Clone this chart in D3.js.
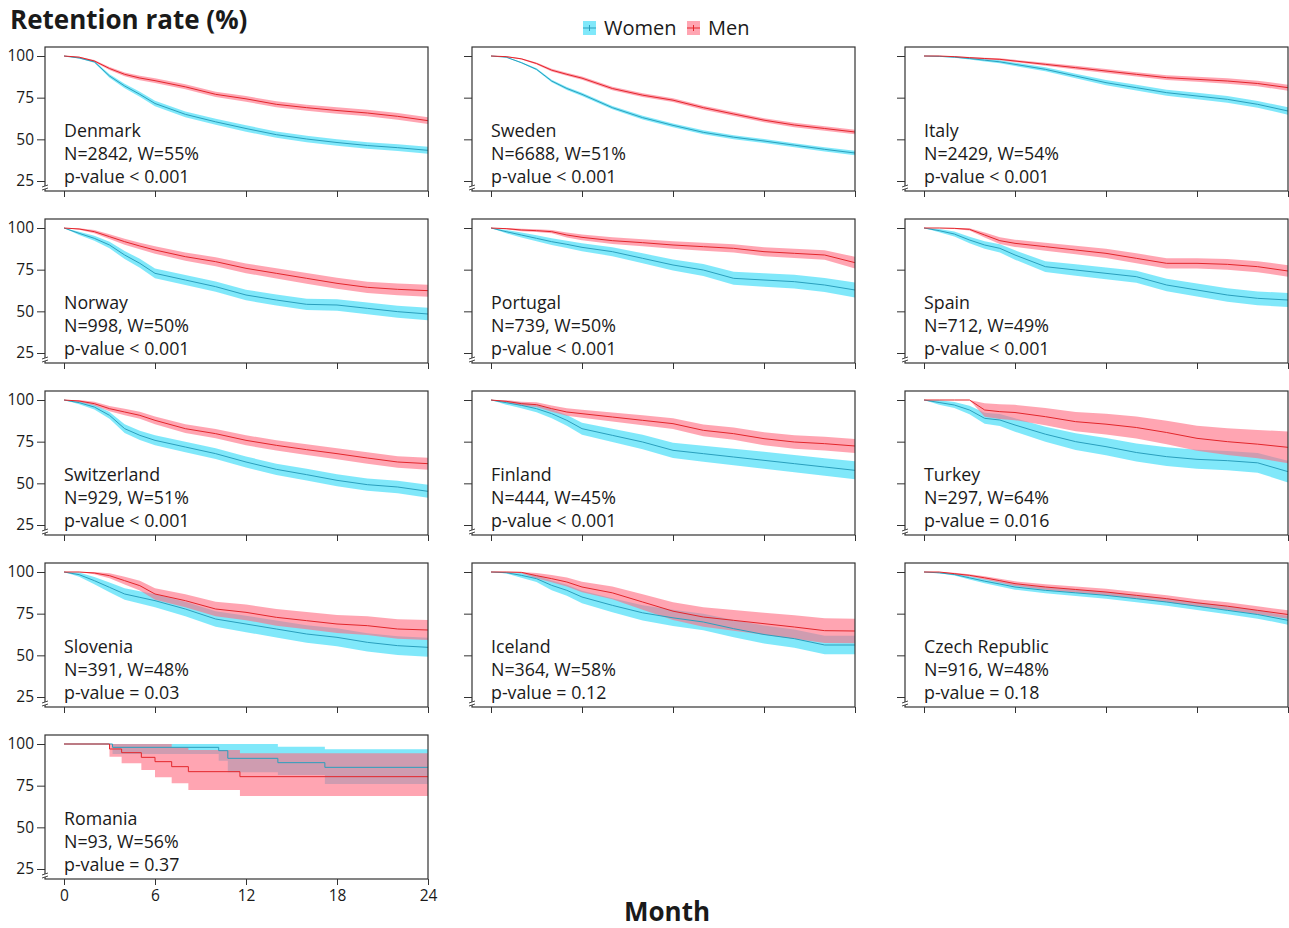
<!DOCTYPE html>
<html>
<head>
<meta charset="utf-8">
<script src="https://cdn.jsdelivr.net/npm/d3@7"></script>
<style>
body { margin: 0; background: #fff; }
text { font-family: "Open Sans", sans-serif; fill: #1a1a1a; }
</style>
</head>
<body>
<div id="chart"></div>
<script>
// retention curves
var months = [0, 1, 2, 3, 4, 5, 6, 8, 10, 12, 14, 16, 18, 20, 22, 24];

var countries = ["Denmark", "Sweden", "Italy", "Norway", "Portugal", "Spain",
  "Switzerland", "Finland", "Turkey", "Slovenia", "Iceland", "Czech Republic", "Romania"];
var sampleN = [2842, 6688, 2429, 998, 739, 712, 929, 444, 297, 391, 364, 916, 93];
var womenShare = [55, 51, 54, 50, 50, 49, 51, 45, 64, 48, 58, 48, 56];
var pValues = ["< 0.001", "< 0.001", "< 0.001", "< 0.001", "< 0.001", "< 0.001",
  "< 0.001", "< 0.001", "= 0.016", "= 0.03", "= 0.12", "= 0.18", "= 0.37"];

var womenSurv = [
  [100, 98.8, 96.5, 88, 82, 77, 71.5, 65, 60.5, 56.5, 52.8, 50.2, 48.1, 46.3, 45, 43.4],
  [100, 99.3, 96, 92, 85, 80.5, 77, 69, 63, 58.4, 54.2, 51.3, 49, 46.5, 44, 41.8],
  [100, 99.8, 99.3, 98.5, 97.5, 96.5, 95, 92, 88, 84, 81, 78, 76, 74, 71, 67],
  [100, 96.8, 93.8, 89.8, 83.8, 78.8, 72.8, 68.8, 64.8, 59.8, 56.8, 54.2, 53.8, 51.8, 49.8, 48.4],
  [100, 97.8, 95.8, 93.8, 91.8, 90.2, 88.4, 85.8, 81.8, 77.8, 74.8, 69.8, 68.8, 67.8, 65.8, 62.8],
  [100, 98.4, 96.4, 92.8, 89.8, 87.8, 83.8, 76.8, 74.8, 72.8, 70.8, 65.8, 62.8, 59.8, 57.8, 56.8],
  [100, 98.4, 95.8, 90.8, 82.8, 78.8, 75.8, 71.8, 67.8, 62.8, 58.4, 55.2, 51.8, 49.2, 47.8, 45.2],
  [100, 98.4, 96.8, 94.8, 91.8, 87.8, 82.8, 78.8, 74.8, 69.8, 67.8, 65.8, 63.8, 61.8, 59.8, 57.8],
  [100, 98.5, 97, 94, 89, 88, 85, 79.5, 75, 72, 68.5, 66, 64.4, 63.6, 62.3, 57],
  [100, 98.4, 94.8, 90.8, 86.8, 84.8, 82.8, 77.8, 71.8, 68.8, 65.8, 62.8, 60.8, 57.8, 55.8, 54.8],
  [100, 99.6, 98, 96, 92, 89, 85, 80, 75.5, 72.5, 70, 66, 62.5, 60, 56.2, 56.2],
  [100, 99.5, 98.5, 96.5, 94.5, 92.8, 91, 89, 87.5, 86, 84, 82, 79.5, 77, 74.5, 71]
];
var menSurv = [
  [100, 99.3, 97, 92.5, 89, 86.8, 85.2, 81.5, 77, 74.3, 71, 69, 67.3, 65.8, 63.8, 61.2],
  [100, 99.6, 98.3, 95.5, 91.5, 89, 86.7, 80.5, 76.5, 73.5, 69, 65.2, 61.5, 58.6, 56.5, 54.4],
  [100, 100, 99.6, 99, 98.5, 98, 97, 95, 93, 91, 89, 87, 86, 85, 83.5, 81],
  [100, 99.4, 97.8, 94.8, 91.8, 89.2, 86.8, 82.8, 79.8, 75.8, 72.8, 69.8, 66.8, 64.4, 63.2, 62.4],
  [100, 99.6, 98.8, 98.4, 97.8, 95.8, 94.4, 92.4, 91.2, 89.8, 88.8, 87.8, 85.8, 84.8, 83.8, 79.2],
  [100, 100, 99.8, 99.2, 95.8, 92.4, 90.8, 88.8, 86.8, 84.8, 81.8, 78.8, 78.8, 78.2, 76.8, 74.2],
  [100, 99.4, 97.8, 94.8, 92.8, 90.8, 87.8, 82.8, 79.8, 75.8, 72.8, 70.2, 67.8, 65.2, 62.8, 61.8],
  [100, 99.2, 97.8, 97.2, 94.8, 92.8, 91.8, 89.8, 87.8, 85.8, 81.8, 79.8, 76.8, 74.8, 73.8, 72.4],
  [100, 100, 100, 100, 94, 93, 92.5, 90, 87, 85.5, 83.5, 80.5, 77, 75, 73.5, 71.6],
  [100, 100, 99.4, 97.8, 94.8, 91.8, 86.8, 82.8, 77.8, 75.8, 72.8, 70.8, 68.8, 67.8, 65.8, 65.2],
  [100, 100, 99.8, 97.8, 96, 94, 91, 87.5, 82, 76.5, 73, 71, 69, 67, 64.8, 64.6],
  [100, 100, 99, 98, 96.5, 94.8, 93, 91, 89.5, 88, 86, 84, 81.5, 79.5, 77, 74.5]
];
// half-width of the 95% band
var womenCI = [
  [0, 0.3, 0.6, 1, 1.3, 1.5, 1.6, 1.7, 1.8, 1.9, 1.9, 2, 2, 2, 2, 2.1],
  [0, 0.2, 0.4, 0.6, 0.8, 0.9, 1, 1, 1.1, 1.1, 1.2, 1.2, 1.2, 1.2, 1.3, 1.3],
  [0, 0.2, 0.4, 0.6, 0.8, 0.9, 1, 1.2, 1.4, 1.6, 1.7, 1.8, 1.9, 2, 2, 2.2],
  [0, 1, 1.5, 2, 2.4, 2.7, 2.9, 3, 3.1, 3.2, 3.3, 3.4, 3.4, 3.5, 3.6, 3.7],
  [0, 1, 1.5, 1.8, 2, 2.2, 2.4, 2.7, 3, 3.3, 3.6, 3.9, 4, 4.1, 4.2, 4.5],
  [0, 1, 1.5, 2, 2.3, 2.5, 2.8, 3.2, 3.4, 3.5, 3.6, 3.8, 3.9, 4, 4.1, 4.2],
  [0, 1, 1.5, 2, 2.6, 2.8, 3, 3.1, 3.2, 3.3, 3.4, 3.5, 3.6, 3.7, 3.8, 3.9],
  [0, 1.2, 1.7, 2.2, 2.7, 3.2, 3.6, 4, 4.3, 4.6, 4.8, 5, 5.1, 5.2, 5.3, 5.4],
  [0, 1.3, 1.8, 2.5, 3.3, 3.6, 4, 4.5, 5, 5.2, 5.4, 5.6, 5.7, 5.8, 5.9, 6.5],
  [0, 1.3, 2.2, 2.9, 3.4, 3.7, 3.9, 4.3, 4.7, 4.9, 5.1, 5.3, 5.4, 5.5, 5.6, 5.7],
  [0, 0.5, 1.4, 2, 2.9, 3.3, 3.7, 4.2, 4.6, 4.9, 5, 5.2, 5.4, 5.5, 5.6, 5.6],
  [0, 0.3, 0.6, 1, 1.3, 1.5, 1.6, 1.8, 1.9, 2, 2.1, 2.2, 2.3, 2.4, 2.5, 2.6]
];
var menCI = [
  [0, 0.3, 0.6, 0.9, 1.1, 1.3, 1.4, 1.5, 1.6, 1.7, 1.8, 1.8, 1.9, 1.9, 2, 2],
  [0, 0.2, 0.4, 0.6, 0.8, 0.9, 1, 1, 1.1, 1.1, 1.2, 1.2, 1.2, 1.3, 1.3, 1.3],
  [0, 0, 0.2, 0.4, 0.5, 0.6, 0.7, 0.9, 1.1, 1.2, 1.3, 1.4, 1.5, 1.6, 1.7, 1.8],
  [0, 0.5, 1, 1.4, 1.8, 2, 2.2, 2.5, 2.7, 2.9, 3.1, 3.2, 3.3, 3.4, 3.5, 3.6],
  [0, 0.4, 0.7, 0.8, 1, 1.5, 1.7, 2, 2.1, 2.3, 2.4, 2.5, 2.7, 2.8, 2.9, 3.5],
  [0, 0, 0.4, 0.7, 1.5, 2, 2.2, 2.4, 2.6, 2.8, 3, 3.1, 3.1, 3.2, 3.3, 3.5],
  [0, 0.6, 1.1, 1.6, 1.9, 2.1, 2.3, 2.6, 2.8, 3, 3.1, 3.2, 3.3, 3.4, 3.5, 3.6],
  [0, 0.7, 1.2, 1.4, 1.9, 2.2, 2.4, 2.7, 3, 3.2, 3.5, 3.7, 3.9, 4, 4.1, 4.2],
  [0, 0, 0, 0, 4, 4.4, 4.6, 5.2, 5.8, 6.2, 6.6, 7, 7.5, 8, 8.5, 9.5],
  [0, 0, 0.8, 1.5, 2.3, 2.9, 3.4, 3.9, 4.4, 4.7, 5, 5.2, 5.4, 5.6, 5.8, 6],
  [0, 0, 0.5, 1.6, 2.2, 2.7, 3.2, 3.8, 4.6, 5.3, 5.8, 6.2, 6.6, 7, 7.4, 7.4],
  [0, 0, 0.5, 0.7, 1, 1.2, 1.4, 1.6, 1.8, 1.9, 2, 2.1, 2.2, 2.3, 2.4, 2.5]
];

// Romania is small, so it is drawn as real steps
var romWomenT = [0, 3.2, 10.2, 10.8, 14.1, 17.2, 24];
var romWomenS = [100, 98, 96, 91.4, 88.8, 86, 86];
var romWomenLo = [100, 94, 90, 83, 81.4, 76, 76];
var romWomenHi = [100, 100, 100, 100, 98.4, 96.8, 96.8];
var romMenT = [0, 3.0, 3.8, 5.1, 6.0, 7.1, 8.2, 11.6, 24];
var romMenS = [100, 97, 94.8, 92, 89.4, 86.4, 83.4, 80.4, 80.4];
var romMenLo = [100, 92.4, 88.4, 84.4, 80, 76.4, 72.4, 68.8, 68.8];
var romMenHi = [100, 100, 100, 100, 100, 98, 96.4, 94.5, 94.5];

var xTicks = [0, 6, 12, 18, 24];
var yTicks = [25, 50, 75, 100];

var w = 1289, h = 928;
var colX0 = [64, 491, 924];
var plotW = 364, padL = 19;
var panelH = 144, rowStep = 172, firstTop = 47;

var womenFill = "rgba(60,220,248,0.65)", menFill = "rgba(255,110,130,0.62)";
var womenLine = "#2a9fbd", menLine = "#e3262b";

function gridSeries(s, ci) {
  return months.map(function(m, i) {
    return { t: m, s: s[i], lo: s[i] - ci[i], hi: Math.min(100, s[i] + ci[i]) };
  });
}
function stepSeries(t, s, lo, hi) {
  return t.map(function(m, i) { return { t: m, s: s[i], lo: lo[i], hi: hi[i] }; });
}

var svg = d3.select("#chart").append("svg").attr("width", w).attr("height", h);

svg.append("text").attr("x", 10).attr("y", 29)
  .style("font-size", "26px").style("font-weight", "700")
  .text("Retention rate (%)");

// legend
var legend = [["Women", womenFill, womenLine, 583], ["Men", menFill, menLine, 687]];
legend.forEach(function(l) {
  var g = svg.append("g").attr("transform", "translate(" + l[3] + ",21)");
  g.append("rect").attr("width", 13).attr("height", 14).attr("fill", l[1]);
  g.append("line").attr("x1", 0).attr("x2", 13).attr("y1", 7).attr("y2", 7).attr("stroke", l[2]);
  g.append("line").attr("x1", 6.5).attr("x2", 6.5).attr("y1", 4).attr("y2", 10).attr("stroke", l[2]);
  g.append("text").attr("x", 21).attr("y", 14).style("font-size", "20px").text(l[0]);
});

svg.append("text").attr("x", 667).attr("y", 921).attr("text-anchor", "middle")
  .style("font-size", "26px").style("font-weight", "700").text("Month");

countries.forEach(function(name, k) {
  var col = k % 3, row = Math.floor(k / 3);
  var x0 = colX0[col], top = firstTop + row * rowStep;
  var x = d3.scaleLinear().domain([0, 24]).range([x0, x0 + plotW]);
  var y = d3.scaleLinear().domain([25, 100]).range([top + 134, top + 9]);
  var isStep = name === "Romania";

  var women, men;
  if (isStep) {
    women = stepSeries(romWomenT, romWomenS, romWomenLo, romWomenHi);
    men = stepSeries(romMenT, romMenS, romMenLo, romMenHi);
  } else {
    women = gridSeries(womenSurv[k], womenCI[k]);
    men = gridSeries(menSurv[k], menCI[k]);
  }
  var curve = isStep ? d3.curveStepAfter : d3.curveLinear;

  var area = d3.area().curve(curve)
    .x(function(d) { return x(d.t); })
    .y0(function(d) { return y(d.lo); })
    .y1(function(d) { return y(d.hi); });
  var line = d3.line().curve(curve)
    .x(function(d) { return x(d.t); })
    .y(function(d) { return y(d.s); });

  var g = svg.append("g");
  g.append("path").datum(women).attr("d", area).attr("fill", womenFill);
  g.append("path").datum(men).attr("d", area).attr("fill", menFill);
  g.append("path").datum(women).attr("d", line).attr("fill", "none").attr("stroke", womenLine).attr("stroke-width", 1);
  g.append("path").datum(men).attr("d", line).attr("fill", "none").attr("stroke", menLine).attr("stroke-width", 1);

  // labels inside the panel
  var lines = [name, "N=" + sampleN[k] + ", W=" + womenShare[k] + "%", "p-value " + pValues[k]];
  lines.forEach(function(s, i) {
    g.append("text").attr("x", x0).attr("y", top + 90 + i * 23)
      .style("font-size", "17.8px").text(s);
  });

  // axes
  var yAxis = d3.axisLeft(y).tickValues(yTicks).tickSize(8).tickPadding(3)
    .tickFormat(col === 0 ? d3.format("d") : function() { return ""; });
  var ya = g.append("g").attr("transform", "translate(" + (x0 - padL) + ",0)").call(yAxis);
  var xAxis = d3.axisBottom(x).tickValues(xTicks).tickSize(6).tickPadding(5)
    .tickFormat(isStep ? d3.format("d") : function() { return ""; });
  var xa = g.append("g").attr("transform", "translate(0," + (top + panelH) + ")").call(xAxis);
  [ya, xa].forEach(function(a) {
    a.select(".domain").remove();
    a.selectAll("line").attr("stroke", "#333");
    a.selectAll("text").style("font-size", "15.5px").style("font-family", "'Open Sans', sans-serif").attr("fill", "#1a1a1a");
  });

  // frame
  g.append("rect").attr("x", x0 - padL).attr("y", top)
    .attr("width", plotW + padL).attr("height", panelH)
    .attr("fill", "none").attr("stroke", "#333").attr("stroke-width", 1.2);

  // axis break mark at the bottom of the y axis
  var bx = x0 - padL, by = top + 139;
  g.append("path").attr("d", "M" + (bx - 3) + "," + (by + 1) + "L" + (bx + 3) + "," + (by - 1) +
      "L" + (bx + 3) + "," + (by + 2) + "L" + (bx - 3) + "," + (by + 4) + "Z")
    .attr("fill", "#fff");
  g.append("path").attr("d", "M" + (bx - 3) + "," + (by + 1) + "L" + (bx + 3) + "," + (by - 1) +
      "M" + (bx - 3) + "," + (by + 4) + "L" + (bx + 3) + "," + (by + 2))
    .attr("stroke", "#333").attr("stroke-width", 0.9);
});
</script>
</body>
</html>
